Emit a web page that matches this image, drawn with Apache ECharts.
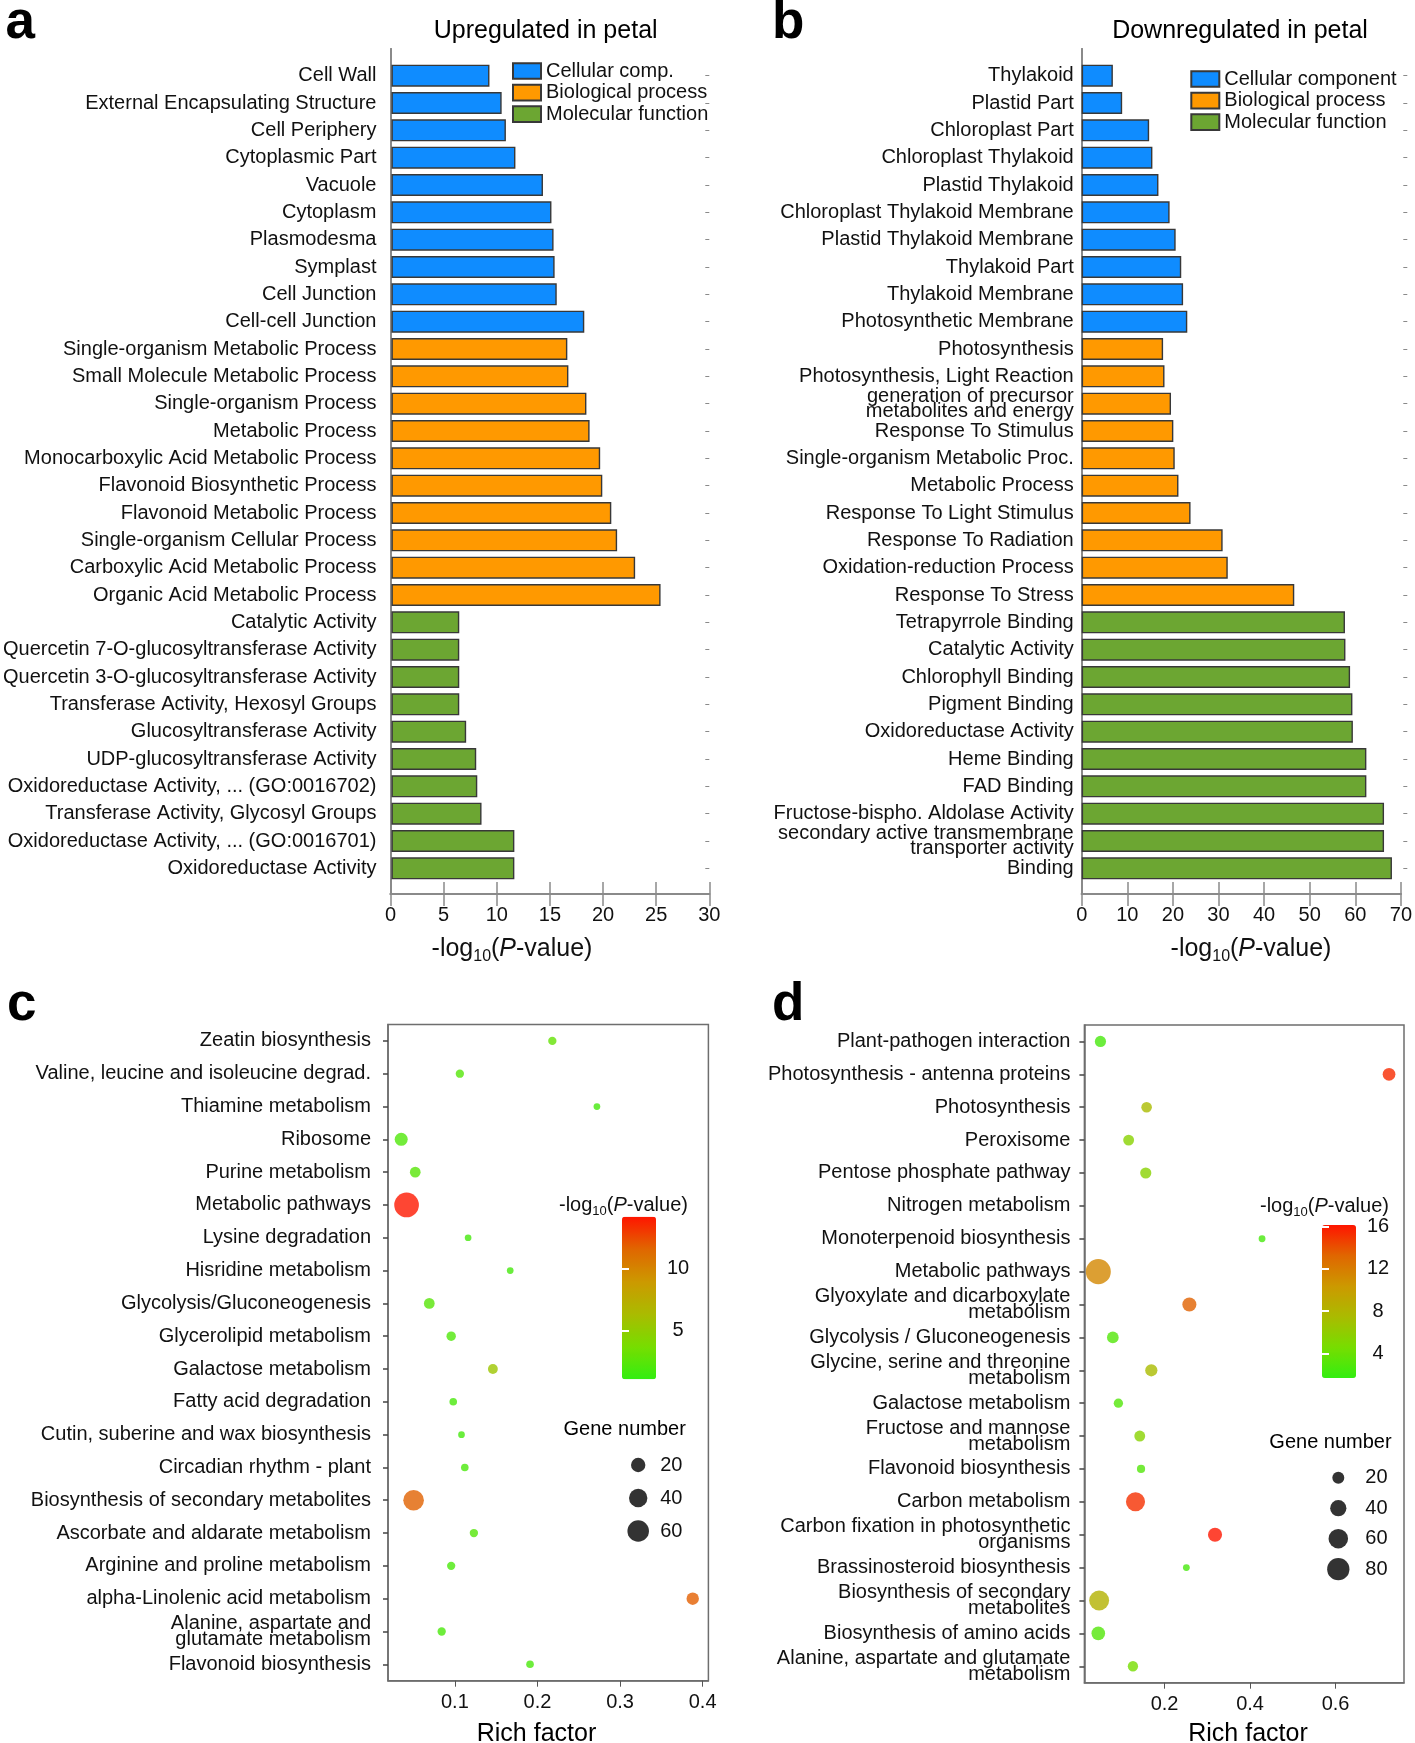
<!DOCTYPE html>
<html><head><meta charset="utf-8">
<script src="https://cdn.jsdelivr.net/npm/echarts@6/dist/echarts.min.js"></script>
<style>html,body{margin:0;padding:0;background:#fff}#c{width:1415px;height:1743px}</style>
</head><body><div id="c"></div>
<script>
// ---------- Panel a : Upregulated in petal ----------
const upCats = ['Cell Wall','External Encapsulating Structure','Cell Periphery','Cytoplasmic Part','Vacuole','Cytoplasm','Plasmodesma','Symplast','Cell Junction','Cell-cell Junction','Single-organism Metabolic Process','Small Molecule Metabolic Process','Single-organism Process','Metabolic Process','Monocarboxylic Acid Metabolic Process','Flavonoid Biosynthetic Process','Flavonoid Metabolic Process','Single-organism Cellular Process','Carboxylic Acid Metabolic Process','Organic Acid Metabolic Process','Catalytic Activity','Quercetin 7-O-glucosyltransferase Activity','Quercetin 3-O-glucosyltransferase Activity','Transferase Activity, Hexosyl Groups','Glucosyltransferase Activity','UDP-glucosyltransferase Activity','Oxidoreductase Activity, ... (GO:0016702)','Transferase Activity, Glycosyl Groups','Oxidoreductase Activity, ... (GO:0016701)','Oxidoreductase Activity'];
const upVals = [9.25,10.4,10.8,11.7,14.3,15.1,15.3,15.4,15.6,18.2,16.6,16.7,18.4,18.7,19.7,19.9,20.75,21.3,23.0,25.4,6.4,6.4,6.4,6.4,7.05,8.0,8.1,8.5,11.6,11.6];
const upGroup = [0,0,0,0,0,0,0,0,0,0,1,1,1,1,1,1,1,1,1,1,2,2,2,2,2,2,2,2,2,2];
const upGroupNames = ['Cellular comp.','Biological process','Molecular function'];

// ---------- Panel b : Downregulated in petal ----------
const downCats = ['Thylakoid','Plastid Part','Chloroplast Part','Chloroplast Thylakoid','Plastid Thylakoid','Chloroplast Thylakoid Membrane','Plastid Thylakoid Membrane','Thylakoid Part','Thylakoid Membrane','Photosynthetic Membrane','Photosynthesis','Photosynthesis, Light Reaction','generation of precursor\nmetabolites and energy','Response To Stimulus','Single-organism Metabolic Proc.','Metabolic Process','Response To Light Stimulus','Response To Radiation','Oxidation-reduction Process','Response To Stress','Tetrapyrrole Binding','Catalytic Activity','Chlorophyll Binding','Pigment Binding','Oxidoreductase Activity','Heme Binding','FAD Binding','Fructose-bispho. Aldolase Activity','secondary active transmembrane\ntransporter activity','Binding'];
const downVals = [6.7,8.7,14.5,15.2,16.5,18.9,20.2,21.4,21.8,22.7,17.5,17.8,19.2,19.7,20.0,20.8,23.4,30.3,31.4,45.7,56.6,56.7,57.7,58.2,58.3,61.2,61.2,65.0,65.0,66.7];
const downGroup = [0,0,0,0,0,0,0,0,0,0,1,1,1,1,1,1,1,1,1,1,2,2,2,2,2,2,2,2,2,2];
const downGroupNames = ['Cellular component','Biological process','Molecular function'];

// ---------- Panel c : KEGG up ----------
const pathC = ['Zeatin biosynthesis','Valine, leucine and isoleucine degrad.','Thiamine metabolism','Ribosome','Purine metabolism','Metabolic pathways','Lysine degradation','Hisridine metabolism','Glycolysis/Gluconeogenesis','Glycerolipid metabolism','Galactose metabolism','Fatty acid degradation','Cutin, suberine and wax biosynthesis','Circadian rhythm - plant','Biosynthesis of secondary metabolites','Ascorbate and aldarate metabolism','Arginine and proline metabolism','alpha-Linolenic acid metabolism','Alanine, aspartate and\nglutamate metabolism','Flavonoid biosynthesis'];
const richC = [0.218,0.106,0.272,0.035,0.052,0.0415,0.116,0.167,0.069,0.0955,0.146,0.098,0.108,0.112,0.050,0.123,0.0955,0.388,0.084,0.191];
const pvalC = [3,2.4,1.8,2.2,2.5,14.1,1.8,1.8,2.5,2.2,5.6,2,1.8,2,11.7,2.4,2,11.8,2,2];
const genesC = [3,3,1,15,8,84,1,1,8,5,6,2,1,2,54,3,3,13,3,2];
const richTicksC = [0.1,0.2,0.3,0.4];
const colorTicksC = [5,10];
const sizeLegendC = [20,40,60];

// ---------- Panel d : KEGG down ----------
const pathD = ['Plant-pathogen interaction','Photosynthesis - antenna proteins','Photosynthesis','Peroxisome','Pentose phosphate pathway','Nitrogen metabolism','Monoterpenoid biosynthesis','Metabolic pathways','Glyoxylate and dicarboxylate\nmetabolism','Glycolysis / Gluconeogenesis','Glycine, serine and threonine\nmetabolism','Galactose metabolism','Fructose and mannose\nmetabolism','Flavonoid biosynthesis','Carbon metabolism','Carbon fixation in photosynthetic\norganisms','Brassinosteroid biosynthesis','Biosynthesis of secondary\nmetabolites','Biosynthesis of amino acids','Alanine, aspartate and glutamate\nmetabolism'];
const richD = [0.050,0.725,0.158,0.116,0.156,null,0.428,0.045,0.258,0.079,0.169,0.092,0.142,0.145,0.132,0.318,0.251,0.047,0.045,0.126];
const pvalD = [2.5,15.4,7.5,5.5,5.5,null,2.5,11.4,13.4,3,7.5,3,5.5,3,15.2,16.1,2.5,8.2,3,4.5];
const genesD = [17,23,15,16,17,null,5,103,29,19,21,11,16,8,57,29,5,63,27,14];
const richTicksD = [0.2,0.4,0.6];
const colorTicksD = [4,8,12,16];
const sizeLegendD = [20,40,60,80];

// ---------- styling ----------
const FF = '"Liberation Sans", Arial, Helvetica, sans-serif';
const TXT = '#111';
const barColors = ['#0f8cff','#ff9900','#6ca632'];
const heatColors = ['#33ee11','#77dd00','#aabb00','#cc9900','#e06600','#ff1500'];
const sizeC = n => 4.5 + 2.2 * Math.sqrt(n);
const sizeD = n => 1.7 + 2.3 * Math.sqrt(n);
const frameLine = {show:true, lineStyle:{color:'#8a8a8a', width:2}};
const plotLine = {show:true, lineStyle:{color:'#6e6e6e', width:1.5}};

function barSeries(vals, grp, names, xi, yi){
  return names.map((nm, g) => ({
    type:'bar', name:nm, xAxisIndex:xi, yAxisIndex:yi, barWidth:22, barGap:'-100%',
    itemStyle:{color:barColors[g], borderColor:'#383838', borderWidth:1.4},
    data: vals.map((v,i) => grp[i] === g ? v : '-'),
    silent:true
  }));
}
function frameX(gi, max, interval){
  return [
    {gridIndex:gi, type:'value', min:0, max:max, interval:interval, position:'bottom',
     axisLine:frameLine, splitLine:{show:false},
     axisTick:{show:true, inside:true, length:12, lineStyle:{color:'#8a8a8a', width:1.5}},
     axisLabel:{show:true, fontSize:20, fontFamily:FF, color:TXT, margin:11}},
    {gridIndex:gi, type:'value', min:0, max:max, interval:interval, position:'top',
     axisLine:frameLine, splitLine:{show:false},
     axisTick:{show:true, inside:true, length:12, lineStyle:{color:'#8a8a8a', width:1.5}},
     axisLabel:{show:false}}
  ];
}
function frameY(gi){
  return [
    {gridIndex:gi, type:'value', min:0, max:1, position:'left', axisLine:frameLine, axisTick:{show:false}, axisLabel:{show:false}, splitLine:{show:false}},
    {gridIndex:gi, type:'value', min:0, max:1, position:'right', axisLine:frameLine, axisTick:{show:false}, axisLabel:{show:false}, splitLine:{show:false}}
  ];
}
function barCatY(gi, cats, margin, lh){
  return [
    {gridIndex:gi, type:'category', data:cats, inverse:true, position:'left',
     axisLine:{show:false}, axisTick:{show:false},
     axisLabel:{fontSize:20, fontFamily:FF, color:TXT, margin:margin, lineHeight:lh, interval:0}},
    {gridIndex:gi, type:'category', data:cats, inverse:true, position:'right',
     axisLine:{show:false}, axisTick:{show:true, inside:true, length:4, alignWithLabel:true, lineStyle:{color:'#8a8a8a'}},
     axisLabel:{show:false}}
  ];
}
function richX(gi, min, max, ticks){
  return {gridIndex:gi, type:'value', min:min, max:max, axisLine:plotLine, splitLine:{show:false},
    axisTick:{show:true, length:6, customValues:ticks, lineStyle:{color:'#555'}},
    axisLabel:{customValues:ticks, fontSize:20, fontFamily:FF, color:TXT, margin:12}};
}
function pathY(gi, cats, margin){
  return {gridIndex:gi, type:'category', data:cats, inverse:true, axisLine:plotLine,
    axisTick:{show:true, length:5, alignWithLabel:true, lineStyle:{color:'#444', width:1.5}},
    axisLabel:{fontSize:20, fontFamily:FF, color:TXT, margin:margin, lineHeight:16, interval:0}};
}
function hiddenX(gi, min, max){
  return {gridIndex:gi, type:'value', min:min, max:max, show:false};
}
function colorbarY(gi, min, max, ticks){
  return [
    {gridIndex:gi, type:'value', min:min, max:max, position:'right', z:10,
     axisLine:{show:false}, splitLine:{show:false},
     axisTick:{show:true, inside:true, length:7, customValues:ticks, lineStyle:{color:'#ffffff', width:2}},
     axisLabel:{customValues:ticks, fontSize:20, fontFamily:FF, color:TXT, margin:22, align:'center'}},
    {gridIndex:gi, type:'value', min:min, max:max, position:'left', z:10,
     axisLine:{show:false}, splitLine:{show:false},
     axisTick:{show:true, inside:true, length:7, customValues:ticks, lineStyle:{color:'#ffffff', width:2}},
     axisLabel:{show:false}}
  ];
}
function sizeLegY(gi, vals, margin){
  return {gridIndex:gi, type:'category', data:vals.map(String), inverse:true, position:'right',
    axisLine:{show:false}, axisTick:{show:false},
    axisLabel:{fontSize:20, fontFamily:FF, color:TXT, margin:margin}};
}
function pText(text, x, y, size, align, weight){
  return {type:'text', x:x, y:y, silent:true,
    style:{text:text, fontSize:size, fontFamily:FF, fontWeight:weight||'normal', fill:'#000',
      align:align, textAlign:align, verticalAlign:'middle', textVerticalAlign:'middle'}};
}
function logText(x, y, size, sub, lh, align){
  return {type:'text', x:x, y:y, silent:true,
    style:{text:'{n|-log}{s|10}{n|(}{i|P}{n|-value)}', fontSize:size, fontFamily:FF, fill:'#111',
      align:align, textAlign:align, verticalAlign:'middle', textVerticalAlign:'middle',
      rich:{
        n:{fontSize:size, fontFamily:FF, fill:'#111', lineHeight:lh, verticalAlign:'middle'},
        i:{fontSize:size, fontFamily:FF, fill:'#111', fontStyle:'italic', lineHeight:lh, verticalAlign:'middle'},
        s:{fontSize:sub, fontFamily:FF, fill:'#111', lineHeight:sub, verticalAlign:'bottom'}
      }}};
}

const grids = [
  {left:390.5, top:49, width:318.8, height:845},        // 0 frame a
  {left:390.5, top:62, width:318.8, height:820},        // 1 bars a
  {left:1081.7, top:49, width:325.6, height:845},       // 2 frame b
  {left:1081.7, top:62, width:325.6, height:820},       // 3 bars b
  {left:388, top:1024.5, width:320.4, height:656.2, show:true, borderColor:'#6e6e6e', borderWidth:1.5}, // 4 c
  {left:1084.4, top:1025, width:319.6, height:657.7, show:true, borderColor:'#6e6e6e', borderWidth:1.5}, // 5 d
  {left:628.2, top:1448.5, width:20, height:99},        // 6 size legend c
  {left:1328.3, top:1462.4, width:20, height:122},      // 7 size legend d
  {left:622, top:1216.7, width:34, height:162.6},       // 8 colorbar c
  {left:1322, top:1225, width:34, height:153}           // 9 colorbar d
];

const xAxes = [].concat(
  frameX(0, 30, 5), [hiddenX(1, 0, 30)],
  frameX(2, 70, 10), [hiddenX(3, 0, 70)],
  [richX(4, 0.019, 0.407, richTicksC), richX(5, 0.0125, 0.76, richTicksD),
   hiddenX(6, 0, 1), hiddenX(7, 0, 1), hiddenX(8, 0, 1), hiddenX(9, 0, 1)]
);
const yAxes = [].concat(
  frameY(0), barCatY(1, upCats, 15, 15),
  frameY(2), barCatY(3, downCats, 8, 15),
  [pathY(4, pathC, 17), pathY(5, pathD, 14),
   sizeLegY(6, sizeLegendC, 12), sizeLegY(7, sizeLegendD, 17)],
  colorbarY(8, 1.1, 14.2, colorTicksC),
  colorbarY(9, 1.66, 16.16, colorTicksD)
);

const series = [].concat(
  barSeries(upVals, upGroup, upGroupNames, 2, 2),
  barSeries(downVals, downGroup, downGroupNames, 5, 6),
  [
    {type:'scatter', name:'KEGG up', xAxisIndex:6, yAxisIndex:8, silent:true,
     data: pathC.map((p,i) => [richC[i], p, pvalC[i], genesC[i]]),
     symbolSize: v => sizeC(v[3])},
    {type:'scatter', name:'KEGG down', xAxisIndex:7, yAxisIndex:9, silent:true,
     data: pathD.map((p,i) => [richD[i], p, pvalD[i], genesD[i]]).filter(d => d[0] != null),
     symbolSize: v => sizeD(v[3])},
    {type:'scatter', name:'size c', xAxisIndex:8, yAxisIndex:10, silent:true,
     itemStyle:{color:'#000'},
     data: sizeLegendC.map(v => [0.5, String(v), v]), symbolSize: v => sizeC(v[2])},
    {type:'scatter', name:'size d', xAxisIndex:9, yAxisIndex:11, silent:true,
     itemStyle:{color:'#000'},
     data: sizeLegendD.map(v => [0.5, String(v), v]), symbolSize: v => sizeD(v[2])}
  ]
);

const legendText = {fontSize:20, fontFamily:FF, color:TXT};
const option = {
  animation:false,
  backgroundColor:'#ffffff',
  textStyle:{fontFamily:FF},
  grid:grids, xAxis:xAxes, yAxis:yAxes, series:series,
  legend:[
    {data:upGroupNames.slice(), orient:'vertical', left:512, top:61, itemWidth:28, itemHeight:15.7, itemGap:1.6,
     padding:0, icon:'rect', selectedMode:false, textStyle:legendText},
    {data:downGroupNames.slice(), orient:'vertical', left:1190.3, top:69, itemWidth:28, itemHeight:15.7, itemGap:1.6,
     padding:0, icon:'rect', selectedMode:false, textStyle:legendText}
  ],
  visualMap:[
    {type:'continuous', seriesIndex:6, dimension:2, min:1.1, max:14.2, left:622, top:1216.7,
     itemWidth:34, itemHeight:162.6, padding:0, calculable:false, hoverLink:false, realtime:false,
     inRange:{color:heatColors}},
    {type:'continuous', seriesIndex:7, dimension:2, min:1.66, max:16.16, left:1322, top:1225,
     itemWidth:34, itemHeight:153, padding:0, calculable:false, hoverLink:false, realtime:false,
     inRange:{color:heatColors}}
  ],
  graphic:[
    pText('a', 5.5, 23, 53, 'left', 'bold'),
    pText('b', 772, 23, 53, 'left', 'bold'),
    pText('c', 7, 1005, 53, 'left', 'bold'),
    pText('d', 772, 1005, 53, 'left', 'bold'),
    pText('Upregulated in petal', 545.7, 31, 25, 'center'),
    pText('Downregulated in petal', 1240, 31, 25, 'center'),
    logText(512, 949, 25, 16, 32, 'center'),
    logText(1251, 949, 25, 16, 32, 'center'),
    pText('Rich factor', 536.5, 1734, 25, 'center'),
    pText('Rich factor', 1248, 1734, 25, 'center'),
    logText(559, 1205, 20, 13, 26, 'left'),
    logText(1260, 1206, 20, 13, 26, 'left'),
    pText('Gene number', 624.7, 1429, 20, 'center'),
    pText('Gene number', 1330.5, 1442.7, 20, 'center')
  ]
};
const chart = echarts.init(document.getElementById('c'), null, {renderer:'canvas', width:1415, height:1743});
chart.setOption(option);
</script>
</body></html>
